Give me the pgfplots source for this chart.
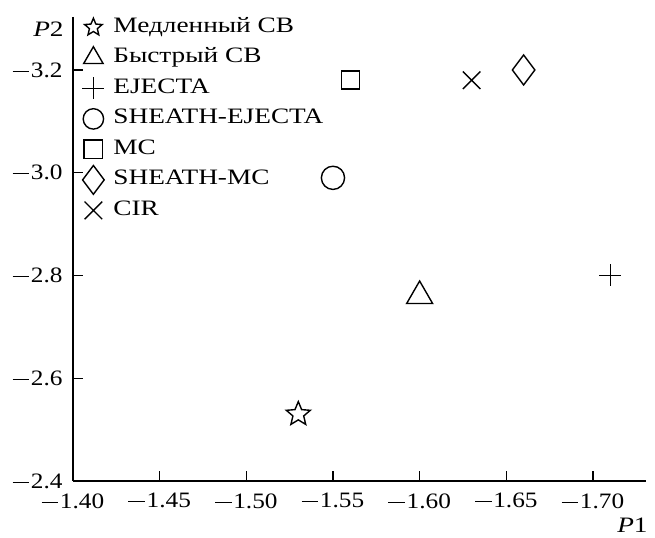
\documentclass[border=0pt]{standalone}
\usepackage{fontspec}
\setmainfont{Liberation Serif}[FakeStretch=1.24]
\newfontfamily\tickfont{Liberation Serif}[FakeStretch=1.15]
\usepackage{pgfplots}
\pgfplotsset{compat=1.18}
\newcommand\mn{\rule[0.25em]{0.75em}{0.045em}\hspace{0.08em}}
\pgfdeclareplotmark{ostar}{%
  \pgfpathmoveto{\pgfqpoint{0pt}{\pgfplotmarksize}}%
  \pgfpathlineto{\pgfqpoint{-.2645\pgfplotmarksize}{.3641\pgfplotmarksize}}%
  \pgfpathlineto{\pgfqpoint{-.9511\pgfplotmarksize}{.3090\pgfplotmarksize}}%
  \pgfpathlineto{\pgfqpoint{-.4280\pgfplotmarksize}{-.1391\pgfplotmarksize}}%
  \pgfpathlineto{\pgfqpoint{-.5878\pgfplotmarksize}{-.8090\pgfplotmarksize}}%
  \pgfpathlineto{\pgfqpoint{0pt}{-.45\pgfplotmarksize}}%
  \pgfpathlineto{\pgfqpoint{.5878\pgfplotmarksize}{-.8090\pgfplotmarksize}}%
  \pgfpathlineto{\pgfqpoint{.4280\pgfplotmarksize}{-.1391\pgfplotmarksize}}%
  \pgfpathlineto{\pgfqpoint{.9511\pgfplotmarksize}{.3090\pgfplotmarksize}}%
  \pgfpathlineto{\pgfqpoint{.2645\pgfplotmarksize}{.3641\pgfplotmarksize}}%
  \pgfpathclose
  \pgfusepathqstroke
}
\pgfplotsset{lms/.initial=5pt,
  mk/.style={only marks, black, mark options={solid, line width=0.7pt, black, line join=miter},
  legend image code/.code={%
    \draw[##1, overlay, mark size=\pgfkeysvalueof{/pgfplots/lms}] plot coordinates {(0pt,0pt)};
    \pgfpathrectangle{\pgfqpoint{-6.5pt}{-0.5pt}}{\pgfqpoint{13pt}{3pt}}\pgfusepath{discard}}}}
\begin{document}
\fontsize{11}{13}\selectfont
\begin{tikzpicture}
\begin{axis}[
  at={(0,0)}, anchor=south west,
  scale only axis, width=286.5pt, height=232pt,
  x dir=reverse, y dir=reverse,
  xmin=-1.7306, xmax=-1.40, ymin=-3.303, ymax=-2.4,
  axis x line*=bottom, axis y line*=left,
  axis line style={line width=0.6pt, -},
  tick align=inside, major tick length=5pt,
  every tick/.style={line width=0.6pt, black},
  xtick={-1.40,-1.45,-1.50,-1.55,-1.60,-1.65,-1.70},
  xticklabels={\mn1.40,\mn1.45,\mn1.50,\mn1.55,\mn1.60,\mn1.65,\mn1.70},
  ytick={-3.2,-3.0,-2.8,-2.6,-2.4},
  yticklabels={\mn3.2,\mn3.0,\mn2.8,\mn2.6,\mn2.4},
  xticklabel style={inner sep=0pt, anchor=north, yshift=-6pt},
  yticklabel style={inner sep=0pt, anchor=east, xshift=-5pt},
  tick label style={font=\tickfont\fontsize{11}{13}\selectfont},
  clip=false,
  legend cell align=left,
  legend style={at={(0,1)}, anchor=north west, yshift=0.5pt, draw=none, fill=none,
    inner xsep=3.5pt, inner ysep=0pt, row sep=4.25pt,
    font=\fontsize{11}{13}\selectfont,
    nodes={inner sep=0pt, text height=8pt, text depth=3pt},
    /tikz/every odd column/.append style={column sep=3.5pt}},
]
\addplot[mk, mark=ostar, mark size=6.3pt, lms=4.6pt] coordinates {(-1.53,-2.53)};
\addlegendentry{Медленный СВ}
\addplot[mk, mark=triangle, mark size=7.5pt, lms=5.6pt] coordinates {(-1.60,-2.76)};
\addlegendentry{Быстрый СВ}
\addplot[mk, mark=+, mark size=5.5pt, lms=5.5pt] coordinates {(-1.71,-2.80)};
\addlegendentry{EJECTA}
\addplot[mk, mark=o, mark size=5.8pt, lms=5.1pt] coordinates {(-1.55,-2.99)};
\addlegendentry{SHEATH-EJECTA}
\addplot[mk, mark=square, mark size=4.5pt, lms=4.7pt] coordinates {(-1.56,-3.18)};
\addlegendentry{MC}
\addplot[mk, mark=diamond, mark size=7.5pt, lms=7.2pt] coordinates {(-1.66,-3.20)};
\addlegendentry{SHEATH-MC}
\addplot[mk, mark=x, mark size=6.2pt, lms=6.2pt] coordinates {(-1.63,-3.18)};
\addlegendentry{CIR}
\node[anchor=north east, inner sep=0pt] at (axis description cs:1,0) [xshift=1pt, yshift=-18.5pt] {\textit{P}1};
\node[anchor=north east, inner sep=0pt] at (axis description cs:0,1) [xshift=-4.5pt, yshift=-2.5pt] {\textit{P}2};
\end{axis}
\pgfresetboundingbox
\path (-36.5pt,-28pt) rectangle (291pt,240.5pt);
\end{tikzpicture}
\end{document}
